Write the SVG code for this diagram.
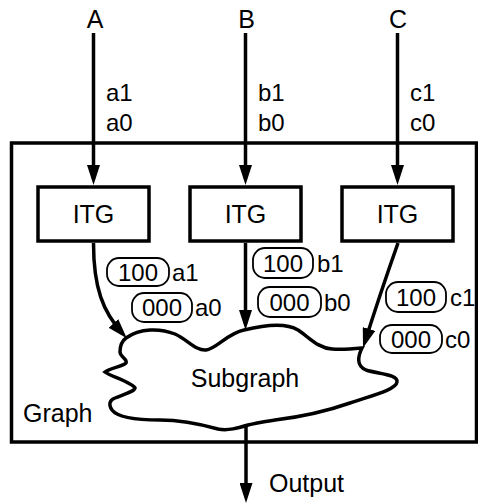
<svg xmlns="http://www.w3.org/2000/svg" width="478" height="504" viewBox="0 0 478 504">
<style>
text{font-family:"Liberation Sans",Arial,sans-serif;font-size:25px;fill:#000}
.c{text-anchor:middle}
.s{font-size:24px}
.box{fill:#fff;stroke:#000;stroke-width:3.5}
.bub{fill:#fff;stroke:#000;stroke-width:1.8}
.ln{fill:none;stroke:#000;stroke-width:3.5}
</style>
<defs>
<marker id="ah" markerUnits="userSpaceOnUse" markerWidth="20" markerHeight="13" refX="14" refY="6.5" orient="auto" viewBox="0 0 20 13">
<path d="M0,0 L20,6.5 L0,13 Z" fill="#000"/>
</marker>
</defs>
<g id="graph">
<rect x="11.5" y="143" width="465" height="299" fill="none" stroke="#000" stroke-width="3.5"/>
<text x="23" y="422">Graph</text>
</g>
<g id="subgraph">
<path class="ln" fill="#fff" d="M126,338 C140,328 160,328 175,334 C188,340 196,351 206,350 C216,349 228,333 244,330 C260,326 285,322 298,330 C310,338 318,348 332,349 C342,350 352,349 362,348 C358,356 356,366 366,370 C378,374 398,374 397,382 C396,390 370,396 350,403 C330,410 300,417 275,420 C262,422 255,423 248,425 C238,428 228,431 218,429 C200,424 180,420 160,420 C140,420 118,418 112,410 C108,404 110,400 115,398 C122,395 134,392 135,388 C133,383 110,376 105,372 C110,368 124,366 126,363 C128,359 120,357 120,352 C120,346 122,341 126,338 Z"/>
<text class="c" x="245" y="387">Subgraph</text>
</g>
<g id="itgA"><rect class="box" x="38" y="187" width="111" height="54"/><text class="c" x="93.5" y="223">ITG</text></g>
<g id="itgB"><rect class="box" x="190" y="187" width="111" height="54"/><text class="c" x="245.5" y="223">ITG</text></g>
<g id="itgC"><rect class="box" x="342" y="187" width="111" height="54"/><text class="c" x="397.5" y="223">ITG</text></g>
<g id="inputs">
<text class="c" x="95" y="28">A</text>
<text class="c" x="246.5" y="28">B</text>
<text class="c" x="398" y="28">C</text>
<text class="s" x="106" y="101">a1</text><text class="s" x="106" y="131">a0</text>
<text class="s" x="258" y="101">b1</text><text class="s" x="258" y="131">b0</text>
<text class="s" x="410" y="101">c1</text><text class="s" x="410" y="131">c0</text>
</g>
<g id="connectors">
<path class="ln" d="M93.5,33 V179" marker-end="url(#ah)"/>
<path class="ln" d="M245.5,33 V179" marker-end="url(#ah)"/>
<path class="ln" d="M397.5,33 V179" marker-end="url(#ah)"/>
<path class="ln" d="M93.5,243 C93.5,288 103,312 122.8,333.8" marker-end="url(#ah)"/>
<path class="ln" d="M245.5,243 V324" marker-end="url(#ah)"/>
<path class="ln" d="M398,243 Q379,297 364.8,342.3" marker-end="url(#ah)"/>
<path class="ln" d="M246,425 V497" marker-end="url(#ah)"/>
</g>
<g id="labels">
<rect class="bub" x="107" y="258" width="62" height="28" rx="12"/><text class="c s" x="138" y="281">100</text><text class="s" x="172" y="281">a1</text>
<rect class="bub" x="132" y="293" width="60" height="29" rx="12"/><text class="c s" x="162" y="316">000</text><text class="s" x="195" y="316">a0</text>
<rect class="bub" x="253" y="248" width="60" height="30" rx="12"/><text class="c s" x="283" y="272">100</text><text class="s" x="317" y="272">b1</text>
<rect class="bub" x="258" y="287" width="63" height="30" rx="12"/><text class="c s" x="289.5" y="311">000</text><text class="s" x="324" y="311">b0</text>
<rect class="bub" x="386" y="282" width="60" height="30" rx="12"/><text class="c s" x="416" y="306">100</text><text class="s" x="450" y="306">c1</text>
<rect class="bub" x="380" y="325" width="62" height="28" rx="12"/><text class="c s" x="411" y="348">000</text><text class="s" x="445" y="348">c0</text>
</g>
<g id="output"><text x="269" y="492">Output</text></g>
</svg>
